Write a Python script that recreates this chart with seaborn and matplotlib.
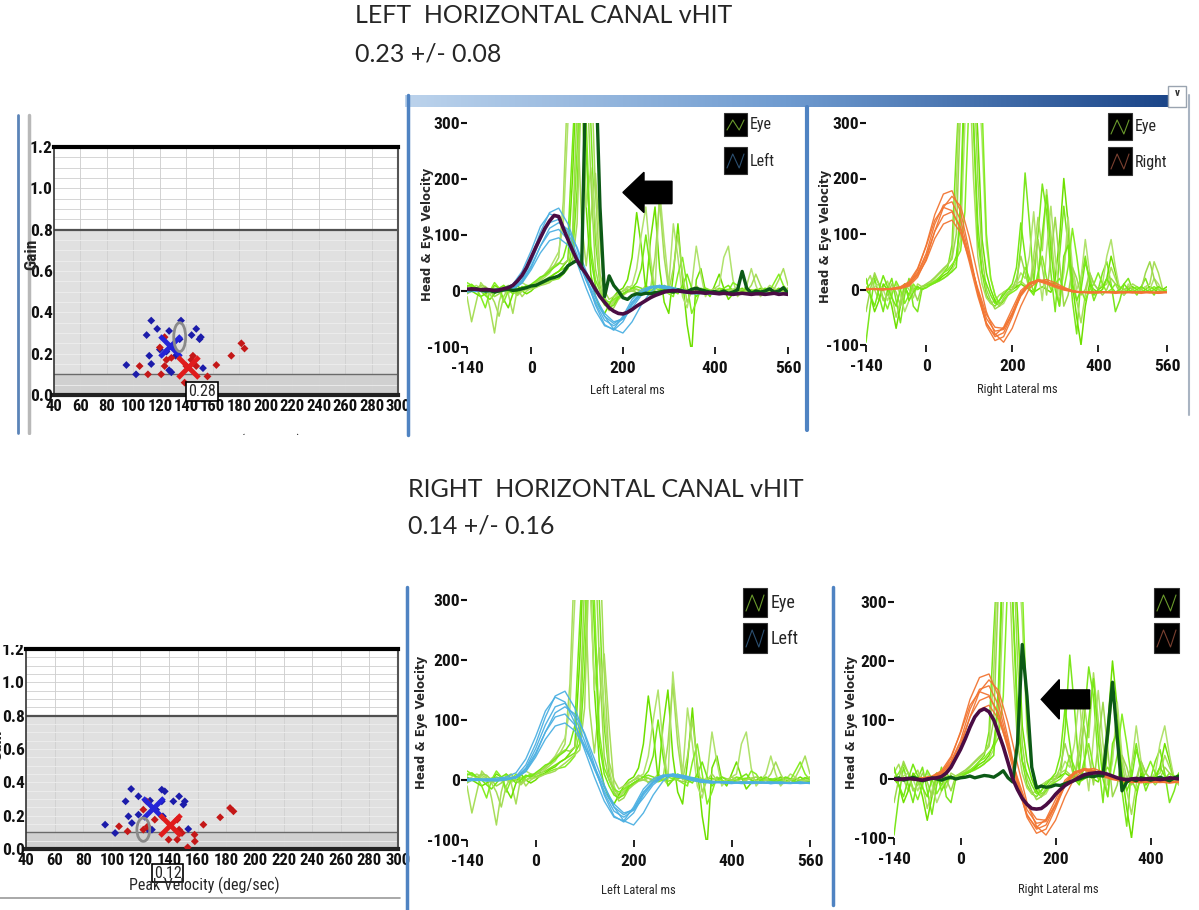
import numpy as np
import matplotlib
matplotlib.use("Agg")
import matplotlib.pyplot as plt
import matplotlib.patches as mpatches
from matplotlib.colors import LinearSegmentedColormap
import seaborn as sns

sns.set_theme(style="white")
NARROW = ["Liberation Sans Narrow", "DejaVu Sans Condensed", "Noto Sans Condensed",
          "Roboto Condensed", "Liberation Sans", "DejaVu Sans"]
TITLE_FONT = ["Lato", "DejaVu Sans"]
plt.rcParams["font.family"] = NARROW

# ---------------- data ----------------
# gain vs peak head velocity (left = blue, right = red)
top_blue_x = [113.5, 118, 110, 127, 136, 147.5, 144, 151, 150, 94.7, 102, 112, 113.5, 120, 127, 128.7, 152.6, 132, 135, 125]
top_blue_y = [0.36, 0.32, 0.29, 0.31, 0.36, 0.32, 0.29, 0.28, 0.27, 0.145, 0.10, 0.19, 0.15, 0.22, 0.12, 0.11, 0.13, 0.19, 0.27, 0.21]
top_red_x = [123.6, 120, 104.7, 111, 121, 123.6, 125, 128.7, 138.7, 140, 145, 143.8, 156, 162.7, 174, 181.6, 184, 147.5]
top_red_y = [0.28, 0.23, 0.14, 0.10, 0.10, 0.14, 0.17, 0.18, 0.06, 0.14, 0.19, 0.17, 0.09, 0.145, 0.19, 0.25, 0.225, 0.14]
top_mean_blue = (127.4, 0.235)
top_mean_red = (141.3, 0.137)
top_selected = (135, 0.28)
top_sel_label = "0.28"

bot_blue_x = [113.5, 109.6, 118.6, 126.7, 134.9, 137, 134.9, 143, 147, 151, 150, 111.6, 114, 118.6, 95.3, 102.3, 125.5, 128, 153.4, 131, 135.7]
bot_blue_y = [0.36, 0.286, 0.316, 0.29, 0.356, 0.346, 0.286, 0.286, 0.316, 0.286, 0.266, 0.196, 0.156, 0.206, 0.146, 0.096, 0.116, 0.116, 0.12, 0.236, 0.196]
bot_red_x = [124.3, 122, 105, 111, 122, 125, 130, 139.7, 145.7, 145.7, 149, 153, 157.8, 158, 164, 175.7, 182.6, 185, 147]
bot_red_y = [0.286, 0.236, 0.136, 0.106, 0.116, 0.136, 0.176, 0.056, 0.176, 0.056, 0.096, 0.01, 0.086, 0.046, 0.146, 0.19, 0.246, 0.226, 0.116]
bot_mean_blue = (129, 0.246)
bot_mean_red = (140.7, 0.146)
bot_selected = (122, 0.116)
bot_sel_label = "0.12"

gain_xticks = list(range(40, 301, 20))
gain_yticks = [0.0, 0.2, 0.4, 0.6, 0.8, 1.0, 1.2]

# time bases (ms)
t10 = np.arange(-140, 561, 10)
t20 = np.arange(-140, 561, 20)

# head velocity traces, left impulses (blue), sampled every 20 ms
head_left = [
    [2, 0, -2, 0, 2, 6, 25, 60, 105, 140, 148, 120, 75, 25, -25, -60, -70, -55, -25, -5, 5, 8, 5, 0, -3, -5, -4, -5, -3, -5, -4, -6, -5, -4, -6, -5],
    [0, 2, 0, -2, 0, 4, 20, 52, 92, 122, 128, 105, 65, 20, -22, -52, -62, -50, -22, -3, 6, 7, 4, 0, -4, -3, -5, -6, -4, -3, -5, -5, -6, -4, -5, -4],
    [3, 1, 0, 1, 3, 5, 18, 45, 80, 105, 110, 92, 58, 18, -18, -45, -58, -48, -20, -2, 8, 10, 6, 2, -2, -4, -3, -4, -5, -3, -4, -6, -4, -5, -3, -5],
    [-2, 0, 2, 0, 1, 3, 14, 38, 68, 90, 95, 82, 55, 22, -12, -40, -55, -50, -30, -8, 5, 9, 7, 3, 0, -3, -4, -3, -5, -4, -5, -3, -5, -6, -4, -6],
    [1, 2, 1, 3, 5, 12, 35, 72, 115, 138, 130, 95, 50, 5, -35, -62, -68, -45, -15, 2, 8, 6, 3, -1, -4, -5, -3, -4, -6, -5, -3, -4, -6, -5, -5, -4],
    [0, -1, 1, 0, 2, 4, 15, 42, 80, 112, 122, 110, 78, 35, -8, -45, -68, -75, -55, -25, -2, 10, 8, 4, 0, -2, -4, -5, -4, -6, -5, -4, -3, -5, -4, -5],
]
# head velocity traces, right impulses (orange)
head_right = [
    [0, 2, 1, 0, 3, 10, 35, 80, 135, 172, 178, 140, 70, -5, -65, -92, -85, -50, -10, 10, 18, 15, 8, 2, -3, -5, -6, -4, -5, -7, -5, -4, -6, -5, -7, -5],
    [2, 0, -1, 1, 4, 12, 30, 65, 118, 152, 158, 125, 62, -5, -60, -85, -78, -45, -8, 12, 17, 14, 7, 1, -4, -6, -4, -5, -6, -5, -4, -6, -5, -6, -4, -6],
    [1, 0, 2, 0, 2, 8, 28, 60, 105, 133, 140, 112, 58, -2, -52, -75, -72, -42, -6, 11, 16, 12, 6, 0, -3, -5, -5, -6, -4, -5, -6, -4, -5, -5, -6, -4],
    [-1, 1, 0, 2, 3, 9, 25, 52, 92, 118, 125, 102, 55, 2, -45, -68, -70, -45, -12, 8, 15, 13, 7, 2, -2, -4, -6, -5, -5, -4, -6, -5, -4, -6, -5, -5],
    [0, 1, 0, 1, 2, 6, 22, 55, 105, 148, 168, 150, 95, 25, -40, -80, -95, -70, -30, 2, 15, 18, 12, 4, -2, -5, -5, -6, -4, -6, -5, -5, -7, -4, -6, -5],
    [2, 1, 0, 2, 5, 14, 38, 78, 125, 148, 142, 108, 50, -12, -62, -82, -68, -35, -2, 12, 15, 10, 4, -1, -4, -5, -6, -5, -4, -5, -5, -6, -4, -5, -6, -5],
]

# eye velocity traces (green), sampled every 10 ms
eye_left = [
    [10, 8, 5, 2, 0, 3, 5, 2, 0, -2, 0, 3, 5, 8,
     10, 12, 15, 20, 25, 30, 35, 40, 45, 60,
     180, 400, 420, 300, 90, 10, -15, -25, -20, -10,
     -5, 0, 5, 8, 5, 2, 0, -2, 0, 2,
     5, 3, 0, -2, 0, 2, 3, 0, -2, -3,
     -2, 0, 2, 3, 0, -3, -2, 0, 2, 0,
     -2, -3, 0, 2, 0, -2, -3],
    [-10, -55, -20, 15, 5, -30, -75, -20, 10, -5, -40, 5, -10, 0,
     5, 10, 18, 25, 32, 45, 60, 160, 380, 420,
     340, 120, 45, 130, 210, 90, -10, -30, -20, -5,
     0, 8, 5, -5, 0, 10, 3, -8, 0, 5,
     3, -5, 0, 6, 2, -4, 0, 3, -2, -3,
     0, 4, 2, -3, -5, 0, 3, 2, -2, 0,
     2, -3, 0, 4, 20, 40, 10],
    [5, 0, -5, -10, -5, 0, 10, 5, -15, -30, -5, 10, 0, -5,
     0, 8, 12, 18, 22, 30, 35, 45, 55, 200,
     410, 380, 150, 30, -10, -30, -40, -25, -10, 0,
     5, 20, 60, 140, 80, 0, 90, 150, 40, -20,
     -40, 30, 120, 20, -60, -110, 20, 40, 0, -10,
     10, 30, 5, -15, -5, 0, 5, 0, -5, 0,
     5, 0, -5, 0, 5, 0, -5],
    [0, 5, 10, 5, 0, -5, 0, 5, 0, -5, 5, 10, 15, 10,
     10, 15, 20, 30, 40, 55, 70, 120, 300, 410,
     420, 360, 150, 220, 120, 20, -20, -30, -15, -5,
     0, 5, 10, 40, 100, 150, 60, 0, 180, 90,
     10, 120, 60, -10, -30, 10, 80, 30, -10, 0,
     5, 10, 60, 80, 20, -10, 0, 10, 40, 10,
     -10, 0, 10, 5, -5, 0, 5],
    [15, 10, 5, -10, -30, 0, 15, 5, -20, 0, 10, -5, 5, 10,
     5, 8, 10, 15, 18, 20, 22, 30, 40, 80,
     250, 420, 300, 80, 20, 0, -15, -20, -15, -10,
     -5, 0, 5, 3, 0, -3, 0, 5, 2, 0,
     -5, -10, 30, 60, 10, -40, -20, 5, 0, -5,
     0, 5, 3, 0, 15, 10, -2, -5, 0, 3,
     0, -5, 0, 15, 30, 10, 0],
    [-5, 0, 5, 10, 8, 0, -10, -5, 5, 10, 0, -5, 0, 5,
     8, 15, 22, 30, 38, 45, 50, 48, 55, 100,
     330, 420, 420, 200, 40, 0, -20, -35, -30, -15,
     -8, -2, 0, 3, 0, -2, 5, 10, 5, 0,
     -3, 0, 4, 2, 0, -3, -5, 0, 5, 2,
     0, -3, -5, 0, 3, 5, 2, 0, -4, -2,
     0, 3, 0, -3, -2, 3, 5],
    [8, 12, 5, 0, -8, -15, -5, 5, 10, 3, -5, 0, 8, 5,
     12, 18, 25, 28, 35, 42, 48, 60, 90, 260,
     420, 420, 250, 60, 10, -10, -25, -30, -25, -12,
     -5, 0, 5, 15, 40, 100, 40, -10, 0, 10,
     5, 0, -5, 10, 30, 5, -10, 0, 5, 0,
     -5, 0, 5, 10, 0, -5, 0, 5, 0, -3,
     0, 5, 2, -3, 0, 4, 0],
    [-3, 0, 4, 8, 3, -5, -20, -45, -10, 5, 0, -8, 0, 3,
     4, 6, 10, 12, 15, 22, 28, 35, 42, 50,
     120, 380, 420, 420, 180, 30, 0, -15, -10, -5,
     0, 3, 0, -3, 0, 5, 2, 60, 160, 60,
     0, 40, 100, 30, -20, 0, 10, 0, -5, 0,
     5, 0, -3, 0, 3, 0, -5, 0, 10, 30,
     10, -5, 0, 3, 0, -2, 0],
]
eye_right = [
    [-95, -30, 20, -10, -40, 0, 20, -20, -60, -10, 20, -30, -40, 0,
     5, 10, 15, 20, 30, 40, 80, 250, 400, 420,
     380, 300, 120, 30, -10, -25, -30, -20, -5, 0,
     0, 5, 80, 210, 120, 10, 100, 190, 140, 30,
     -40, 60, 150, 80, -20, -80, 20, 60, 10, -20,
     0, 30, 50, 10, -40, -20, 10, 20, 0, -10,
     5, 20, 0, -10, 5, 0, -5],
    [10, 25, 0, -20, 5, 15, -10, -50, -20, 10, 0, -15, 10, 5,
     8, 12, 20, 28, 35, 45, 60, 180, 420, 420,
     420, 200, 60, 10, -15, -25, -20, -10, -5, 0,
     5, 10, 15, 8, 0, 60, 130, 70, 180, 100,
     20, -30, 40, 100, 30, -20, -60, -10, 30, 10,
     0, 5, 10, 40, 20, 0, -5, 0, 10, 5,
     0, 5, 10, 50, 30, 0, -5],
    [0, -10, -40, -20, 10, 0, -30, -70, -30, 5, -10, 0, 5, 0,
     5, 10, 12, 18, 25, 30, 40, 60, 120, 400,
     420, 420, 280, 90, 30, 0, -20, -30, -20, -10,
     0, 5, 10, 5, 0, -5, 0, 5, 0, -5,
     20, 90, 200, 120, 10, -50, -100, -30, 10, 0,
     -5, 0, 20, 60, 30, 0, -10, 0, 5, 0,
     -5, 0, 5, 0, -5, 0, 5],
    [5, 0, 5, 10, 0, -20, 0, 10, -10, -40, -20, 5, 0, 5,
     5, 8, 12, 15, 20, 25, 35, 50, 90, 300,
     420, 420, 400, 270, 80, 20, -10, -30, -25, -10,
     0, 10, 30, 20, 60, 140, 40, -20, 70, 150,
     60, -10, 30, 130, 40, 0, 20, 90, 30, -10,
     0, 10, 60, 90, 40, 0, -10, 10, 0, -5,
     0, 5, 0, 20, 10, -5, 0],
    [0, 10, 25, 10, -15, -35, -10, 15, 0, -25, -10, 10, 0, 5,
     8, 10, 15, 22, 30, 35, 45, 55, 70, 140,
     350, 420, 420, 330, 100, 20, -10, -25, -20, -10,
     -5, 0, 10, 40, 20, -5, 30, 60, 20, 0,
     10, 20, 0, 40, 110, 60, 0, -20, 0, 10,
     30, 10, -5, 0, 10, 5, 0, -5, 0, 5,
     0, -5, 0, 5, 0, -5, 0],
    [-40, 0, 30, 10, -20, -10, 10, -5, -30, 0, 15, 0, -20, 5,
     10, 15, 22, 30, 38, 45, 55, 100, 330, 420,
     420, 420, 200, 60, 0, -20, -35, -30, -15, -5,
     0, 20, 60, 30, 0, 40, 90, 40, -10, 60,
     130, 50, -30, -10, 40, 20, -10, 0, 30, 10,
     0, -10, 0, 20, 10, -5, 0, 5, 0, -5,
     0, 30, 50, 20, 0, -5, 0],
    [20, -10, -30, 0, 25, 5, -15, -30, 0, 10, -20, -5, 5, 0,
     3, 8, 12, 16, 20, 26, 32, 40, 160, 420,
     420, 300, 90, 30, 10, -10, -25, -20, -10, 0,
     10, 40, 120, 60, 0, -10, 20, 100, 170, 70,
     0, -30, 60, 80, 10, -20, 0, 50, 20, -10,
     0, 5, 20, 5, -5, 0, 10, 0, -5, 0,
     5, 0, -5, 0, 5, 0, -5],
]

# highlighted single impulses (10 ms samples)
purple_top = [3, 4, 3, 2, 3, 2, 1, 2, 4, 6, 10, 18, 28, 42,
              60, 78, 95, 112, 125, 135, 133, 112, 92, 73,
              55, 42, 30, 17, 3, -10, -20, -30, -36, -40,
              -41, -38, -33, -27, -22, -17, -12, -8, -5, -2,
              0, 1, 0, -1, -2, -3, -2, -3, -4, -3,
              -4, -5, -4, -5, -6, -5, -4, -5, -6, -5,
              -5, -6, -5, -4, -6, -5, -6]
dkgreen_top = [3, 2, 4, 2, 0, 1, -2, 0, 2, 3, 1, 2, 4, 6,
               9, 10, 14, 18, 22, 24, 27, 33, 45, 50,
               55, 40, 420, 420, 420, 150, -10, 27, 10, 0,
               -12, -15, -8, -5, -6, -4, -5, -3, -2, 0,
               0, -2, 2, 0, -1, 3, 5, 2, 0, -2,
               -1, -3, 0, -4, -2, 2, 35, 5, -4, 0,
               -2, 0, 4, -2, 0, 6, -4]
purple_bot = [0, -1, 0, 1, 0, -1, -2, 0, 1, 2, 4, 10, 20, 35,
              50, 68, 88, 105, 115, 119, 114, 100, 78, 55,
              28, 0, -18, -33, -43, -50, -51, -50, -44, -36,
              -26, -18, -11, -6, -2, 3, 7, 9, 10, 11,
              10, 8, 5, 2, 0, -1, 0, 1, -1, 0,
              1, 0, -1, 0, 2, 1, 0, -1, 0, 1,
              0, -1, 0, 1, 0, -1, 0]
dkgreen_bot = [0, 2, -2, 0, 3, 0, -3, -1, 2, 0, -2, 1, 3, 0,
               2, 3, 5, 2, 4, 6, 5, 3, 8, 14,
               2, -5, 60, 228, 140, 20, -15, -12, -14, -13,
               -10, -11, -8, -5, -2, 0, 3, 5, 4, 6,
               5, 80, 164, 70, -20, -5, 0, -3, 2, 0,
               -2, 0, 3, 0, -3, 2, 5, 0, -2, 0,
               0, -2, 2, 0, -3, 0, 2]

vel_yticks = [-100, 0, 100, 200, 300]
xticks_full = [-140, 0, 200, 400, 560]
xticks_short = [-140, 0, 200, 400]

EYE_SHADES = ["#7be61c", "#a8de5a", "#6ee000", "#b0e26c", "#84ee22", "#9cd94c", "#76e814", "#a4dc56"]
BLUE_HEAD = "#4cb0e2"
ORANGE_HEAD = "#f27532"

# ---------------- figure ----------------
W, H = 1199, 910
fig = plt.figure(figsize=(W / 100, H / 100), dpi=100)
fig.patch.set_facecolor("white")


def add_px_axes(l, t, r, b):
    return fig.add_axes([l / W, 1 - b / H, (r - l) / W, (b - t) / H])


def gain_panel(box, bx, by, rx, ry, mb, mr, sel, sel_label, label_xy):
    ax = add_px_axes(*box)
    ax.set_facecolor("white")
    ax.axhspan(0, 0.8, color="#e0e0e0", zorder=0.2, lw=0)
    ax.axhspan(0, 0.1, color="#d0d0d0", zorder=0.3, lw=0)
    for v in range(60, 300, 20):
        ax.axvline(v, color="#d2d2d2", lw=0.7, zorder=0.5)
    for g in np.arange(0.05, 1.2, 0.05):
        ax.axhline(g, color="#cfcfcf" if g > 0.8 else "#eeeeee", lw=0.6, zorder=0.5)
    ax.axhline(0.8, color="#505050", lw=1.6, zorder=1)
    ax.axhline(0.1, color="#6a6a6a", lw=1.0, zorder=1)
    sns.scatterplot(x=bx, y=by, ax=ax, marker="D", s=16, color="#1c1caa", edgecolor="none", zorder=3)
    sns.scatterplot(x=rx, y=ry, ax=ax, marker="D", s=16, color="#c41818", edgecolor="none", zorder=3)
    ax.scatter([mb[0]], [mb[1]], marker="x", s=230, lw=3.5, color="#2424d8", zorder=4)
    ax.scatter([mr[0]], [mr[1]], marker="x", s=230, lw=3.5, color="#e01c1c", zorder=4)
    ax.add_patch(mpatches.Ellipse(sel, 9, 0.14, fill=False, edgecolor="#8a8a8a", lw=2, zorder=5))
    ax.text(label_xy[0], label_xy[1], sel_label, ha="center", va="center", fontsize=11.5,
            clip_on=False, zorder=6,
            bbox=dict(boxstyle="square,pad=0.12", fc="white", ec="black", lw=1.2))
    ax.set_xlim(40, 300)
    ax.set_ylim(0, 1.2)
    ax.set_xticks(gain_xticks)
    ax.set_xticklabels([str(v) for v in gain_xticks])
    ax.set_yticks(gain_yticks)
    ax.set_yticklabels([f"{v:.1f}" for v in gain_yticks])
    ax.tick_params(axis="x", length=0, pad=3, labelsize=12, colors="#111111")
    ax.tick_params(axis="y", length=0, pad=1, labelsize=12.5, colors="#111111")
    for lab in ax.get_xticklabels() + ax.get_yticklabels():
        lab.set_fontweight("bold")
    ax.spines["top"].set(color="black", lw=3)
    ax.spines["bottom"].set(color="#222222", lw=3)
    ax.spines["left"].set(color="#333333", lw=1.2)
    ax.spines["right"].set(color="#555555", lw=1.5)
    return ax


def wave_panel(box, heads, head_color, eyes, xmax, xticks):
    ax = add_px_axes(*box)
    for tr, c in zip(eyes, EYE_SHADES):
        sns.lineplot(x=t10, y=tr, ax=ax, color=c, lw=1.1)
    for tr in heads:
        sns.lineplot(x=t20, y=tr, ax=ax, color=head_color, lw=1.0, alpha=0.95)
    ax.set_xlim(-140, xmax)
    ax.set_ylim(-100, 300)
    ax.set_xticks(xticks)
    ax.set_xticklabels([str(v) for v in xticks])
    ax.set_yticks(vel_yticks)
    ax.set_yticklabels([str(v) for v in vel_yticks])
    for s in ax.spines.values():
        s.set_visible(False)
    ax.tick_params(axis="x", bottom=True, direction="out", length=5, width=1.3, pad=5,
                   labelsize=12.5, colors="#111111")
    ax.tick_params(axis="y", left=True, direction="out", length=4, width=1.5, pad=1,
                   labelsize=12.5, colors="#111111")
    for lab in ax.get_xticklabels() + ax.get_yticklabels():
        lab.set_fontweight("bold")
    return ax


# gain plots
gain_panel((54, 147, 398, 395), top_blue_x, top_blue_y, top_red_x, top_red_y,
           top_mean_blue, top_mean_red, top_selected, top_sel_label, (152, 0.015))
gain_panel((26, 649, 398, 849), bot_blue_x, bot_blue_y, bot_red_x, bot_red_y,
           bot_mean_blue, bot_mean_red, bot_selected, bot_sel_label, (139, -0.144))

# velocity traces
ax_tl = wave_panel((467, 123, 788, 347), head_left, BLUE_HEAD, eye_left, 560, xticks_full)
sns.lineplot(x=t10, y=dkgreen_top, ax=ax_tl, color="#0c5a16", lw=2.4)
sns.lineplot(x=t10, y=purple_top, ax=ax_tl, color="#4a0c44", lw=2.6)
ax_tl.add_patch(mpatches.FancyArrow(307, 176, -107, 0, width=40, head_width=72, head_length=46,
                                    length_includes_head=True, color="black", zorder=6))

wave_panel((866, 123, 1167, 345), head_right, ORANGE_HEAD, eye_right, 560, xticks_full)
wave_panel((467, 600, 810, 840), head_left, BLUE_HEAD, eye_left, 560, xticks_full)

ax_br = wave_panel((894, 602, 1179, 838), head_right, ORANGE_HEAD, eye_right, 460, xticks_short)
sns.lineplot(x=t10, y=dkgreen_bot, ax=ax_br, color="#0c5a16", lw=2.4)
sns.lineplot(x=t10, y=purple_bot, ax=ax_br, color="#4a0c44", lw=2.6)
ax_br.add_patch(mpatches.FancyArrow(272, 135, -102, 0, width=32, head_width=67, head_length=38,
                                    length_includes_head=True, color="black", zorder=6))

# ---------------- overlay: titles, labels, window chrome ----------------
ov = fig.add_axes([0, 0, 1, 1], zorder=10)
ov.patch.set_alpha(0)
grad = np.linspace(0, 1, 256).reshape(1, -1)
cmap = LinearSegmentedColormap.from_list("bar", ["#bcd3ec", "#6f9bd0", "#1c4689"])
ov.imshow(grad, extent=(405, 1168, 107, 95), aspect="auto", cmap=cmap, zorder=1)
ov.set_xlim(0, W)
ov.set_ylim(H, 0)
ov.axis("off")

ov.add_patch(mpatches.Rectangle((1168, 86), 18, 21, fc="white", ec="#9aa4b0", lw=1))
ov.text(1177, 93, "v", ha="center", va="center", fontsize=8, fontweight="bold", color="#333")

chrome_blue = "#4f83c2"
ov.plot([408, 408], [95, 435], color=chrome_blue, lw=2.5)
ov.plot([807, 807], [107, 430], color=chrome_blue, lw=3)
ov.plot([1189, 1189], [95, 415], color="#a9b4c2", lw=1.5)
ov.plot([18, 18], [115, 433], color="#5b84b8", lw=2)
ov.plot([29, 29], [115, 433], color="#b8b8b8", lw=2.5)
ov.plot([407, 407], [587, 910], color=chrome_blue, lw=2.5)
ov.plot([833, 833], [587, 905], color=chrome_blue, lw=2.5)
ov.plot([0, 400], [898, 898], color="#9a9a9a", lw=1.2)

# titles
ov.text(355, 23, "LEFT  HORIZONTAL CANAL vHIT", fontsize=18, family=TITLE_FONT, va="baseline")
ov.text(355, 62, "0.23 +/- 0.08", fontsize=18, family=TITLE_FONT, va="baseline")
ov.text(408, 497, "RIGHT  HORIZONTAL CANAL vHIT", fontsize=18, family=TITLE_FONT, va="baseline")
ov.text(408, 533, "0.14 +/- 0.16", fontsize=18, family=TITLE_FONT, va="baseline")

# gain plot labels
ov.text(32, 254, "Gain", rotation=90, ha="center", va="center", fontsize=12.5, fontweight="bold")
ov.text(-3, 745, "Gain", rotation=90, ha="center", va="center", fontsize=12.5, fontweight="bold")
ov.text(226, 442, "Peak Velocity (deg/sec)", ha="center", va="center", fontsize=11.5, zorder=3)
ov.add_patch(mpatches.Rectangle((0, 435), 406, 40, fc="white", ec="none", zorder=5))
ov.add_patch(mpatches.Rectangle((0, 600), 60, 45, fc="white", ec="none", zorder=5))
ov.text(204, 885, "Peak Velocity (deg/sec)", ha="center", va="center", fontsize=11.5)

# velocity plot labels
for x, y in [(427, 234), (825, 236), (422, 722), (851, 722)]:
    ov.text(x, y, "Head & Eye Velocity", rotation=90, ha="center", va="center",
            fontsize=8.5, fontweight="bold", family=["DejaVu Sans"])
ov.text(627, 390, "Left Lateral ms", ha="center", va="center", fontsize=9)
ov.text(1017, 390, "Right Lateral ms", ha="center", va="center", fontsize=9)
ov.text(638, 890, "Left Lateral ms", ha="center", va="center", fontsize=9)
ov.text(1058, 890, "Right Lateral ms", ha="center", va="center", fontsize=9)


def legend_box(x, y, w, h, color):
    ov.add_patch(mpatches.Rectangle((x, y), w, h, fc="black", ec="#333333", lw=0.8, zorder=4))
    ov.plot([x + 3, x + w * 0.38, x + w * 0.66, x + w - 3],
            [y + h - 6, y + 7, y + h - 6, y + 7], color=color, lw=0.8, zorder=5)


legend_box(724, 113, 23, 23, "#6a9a2c")
legend_box(724, 147, 23, 27, "#2c4f70")
ov.text(750, 125, "Eye", va="center", fontsize=11.5)
ov.text(750, 161, "Left", va="center", fontsize=11.5)
legend_box(1108, 113, 24, 27, "#6a9a2c")
legend_box(1108, 147, 24, 28, "#7a4030")
ov.text(1135, 127, "Eye", va="center", fontsize=11.5)
ov.text(1135, 162, "Right", va="center", fontsize=11.5)
legend_box(743, 588, 24, 29, "#6a9a2c")
legend_box(743, 623, 24, 30, "#2c4f70")
ov.text(771, 603, "Eye", va="center", fontsize=13)
ov.text(771, 639, "Left", va="center", fontsize=13)
legend_box(1154, 588, 25, 29, "#6a9a2c")
legend_box(1154, 623, 25, 30, "#7a4030")

fig.savefig("out.png", dpi=100)
